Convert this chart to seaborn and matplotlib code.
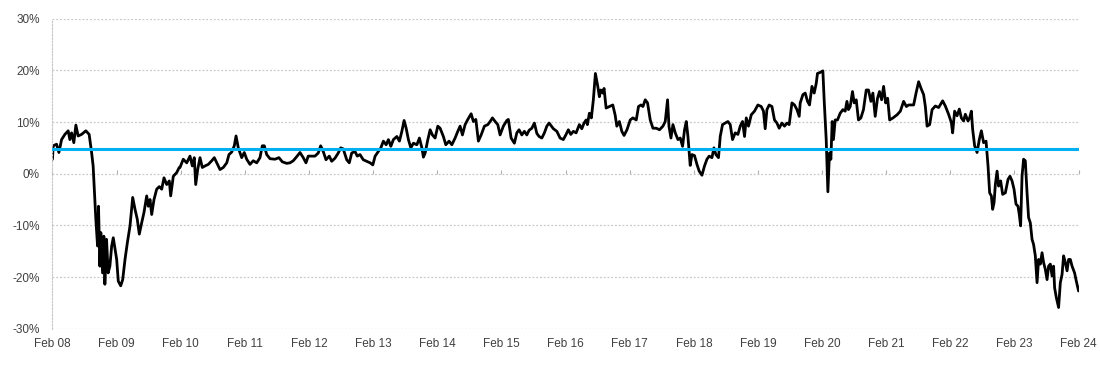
import matplotlib
matplotlib.use("Agg")
import matplotlib.pyplot as plt
import matplotlib.dates as mdates
from matplotlib.ticker import PercentFormatter
import seaborn as sns
import pandas as pd

# dates as decimal years, values in %
years = [
    2008.085, 2008.096, 2008.149, 2008.185, 2008.227, 2008.278, 2008.330, 2008.356, 2008.383, 2008.418,
    2008.450, 2008.485, 2008.538, 2008.606, 2008.657, 2008.695, 2008.719, 2008.746, 2008.761, 2008.788,
    2008.803, 2008.824, 2008.839, 2008.866, 2008.886, 2008.902, 2008.928, 2008.953, 2008.980, 2009.006,
    2009.031, 2009.058, 2009.084, 2009.109, 2009.147, 2009.178, 2009.214, 2009.250, 2009.292, 2009.334,
    2009.370, 2009.405, 2009.437, 2009.474, 2009.510, 2009.552, 2009.577, 2009.604, 2009.630, 2009.666,
    2009.708, 2009.749, 2009.786, 2009.822, 2009.864, 2009.905, 2009.926, 2009.967, 2010.020, 2010.060,
    # 2010-2011
    2010.072, 2010.123, 2010.177, 2010.228, 2010.264, 2010.295, 2010.317, 2010.348, 2010.384, 2010.420,
    2010.462, 2010.513, 2010.567, 2010.607, 2010.645, 2010.696, 2010.747, 2010.801, 2010.836, 2010.879,
    2010.919, 2010.946, 2010.981, 2011.035, 2011.075, 2011.113, 2011.164, 2011.215, 2011.269, 2011.320,
    2011.356, 2011.387, 2011.425, 2011.476, 2011.554, 2011.616, 2011.668, 2011.737, 2011.788, 2011.839,
    2011.893, 2011.944, 2011.995,
    # 2012-2013
    2012.038, 2012.073, 2012.127, 2012.178, 2012.229, 2012.267, 2012.307, 2012.350, 2012.401, 2012.439,
    2012.490, 2012.541, 2012.579, 2012.619, 2012.673, 2012.713, 2012.751, 2012.802, 2012.838, 2012.880,
    2012.931, 2012.985, 2013.036, 2013.078, 2013.114, 2013.165, 2013.203, 2013.243, 2013.286, 2013.321,
    2013.359, 2013.399, 2013.453, 2013.493, 2013.531, 2013.566, 2013.598, 2013.633, 2013.671, 2013.711,
    2013.765, 2013.805, 2013.843, 2013.867,
    # 2014-2015
    2013.894, 2013.936, 2013.972, 2014.008, 2014.050, 2014.092, 2014.128, 2014.179, 2014.217, 2014.268,
    2014.311, 2014.362, 2014.404, 2014.440, 2014.476, 2014.518, 2014.560, 2014.612, 2014.647, 2014.685,
    2014.725, 2014.768, 2014.819, 2014.872, 2014.908, 2014.944, 2014.986, 2015.028, 2015.064, 2015.115,
    2015.169, 2015.193, 2015.236, 2015.287, 2015.325, 2015.360, 2015.403, 2015.443, 2015.481, 2015.516,
    2015.559, 2015.599, 2015.637, 2015.672, 2015.715, 2015.755, 2015.793, 2015.828,
    # 2016-2017
    2015.895, 2015.949, 2016.000, 2016.051, 2016.094, 2016.129, 2016.167, 2016.207, 2016.250, 2016.301,
    2016.339, 2016.374, 2016.406, 2016.426, 2016.457, 2016.488, 2016.519, 2016.551, 2016.588, 2016.613,
    2016.635, 2016.666, 2016.686, 2016.718, 2016.769, 2016.822, 2016.858, 2016.885, 2016.925, 2016.963,
    2016.998, 2017.041, 2017.092, 2017.134, 2017.186, 2017.221, 2017.259, 2017.290, 2017.326, 2017.362,
    2017.404, 2017.446, 2017.498, 2017.549, 2017.602, 2017.638, 2017.674, 2017.696, 2017.727, 2017.758,
    # 2018-2019
    2017.794, 2017.836, 2017.872, 2017.908, 2017.939, 2017.966, 2017.992, 2018.028, 2018.055, 2018.095,
    2018.133, 2018.168, 2018.211, 2018.251, 2018.289, 2018.324, 2018.367, 2018.398, 2018.429, 2018.469,
    2018.496, 2018.532, 2018.574, 2018.616, 2018.652, 2018.688, 2018.730, 2018.772, 2018.808, 2018.844,
    2018.875, 2018.902, 2018.937, 2018.980, 2019.031, 2019.084, 2019.136, 2019.171, 2019.198, 2019.225,
    2019.260, 2019.303, 2019.343, 2019.381, 2019.416, 2019.459, 2019.499, 2019.537, 2019.572, 2019.615,
    2019.655, 2019.693, 2019.728,
    # 2020-2021
    2019.744, 2019.786, 2019.822, 2019.858, 2019.889, 2019.927, 2019.962, 2019.994, 2020.014, 2020.056,
    2020.098, 2020.118, 2020.150, 2020.176, 2020.201, 2020.223, 2020.243, 2020.263, 2020.290, 2020.326,
    2020.368, 2020.410, 2020.446, 2020.473, 2020.497, 2020.524, 2020.560, 2020.586, 2020.618, 2020.653,
    2020.691, 2020.731, 2020.774, 2020.809, 2020.847, 2020.878, 2020.914, 2020.950, 2020.981, 2021.012,
    2021.043, 2021.075, 2021.106, 2021.137, 2021.190, 2021.253, 2021.304, 2021.355, 2021.398, 2021.433,
    2021.471, 2021.511, 2021.549, 2021.589, 2021.627, 2021.667, 2021.694, 2021.721, 2021.761, 2021.799,
    # 2022-2024
    2021.850, 2021.901, 2021.964, 2022.006, 2022.057, 2022.100, 2022.120, 2022.151, 2022.189, 2022.224,
    2022.256, 2022.291, 2022.318, 2022.360, 2022.385, 2022.412, 2022.432, 2022.463, 2022.501, 2022.536,
    2022.568, 2022.603, 2022.641, 2022.672, 2022.697, 2022.724, 2022.744, 2022.766, 2022.786, 2022.813,
    2022.837, 2022.869, 2022.900, 2022.942, 2022.984, 2023.015, 2023.047, 2023.078, 2023.109, 2023.140,
    2023.160, 2023.181, 2023.203, 2023.227, 2023.254, 2023.281, 2023.305, 2023.332, 2023.359, 2023.383,
    2023.410, 2023.437, 2023.461, 2023.488, 2023.515, 2023.539, 2023.566, 2023.593, 2023.617, 2023.644,
    2023.671, 2023.695, 2023.711, 2023.738, 2023.773, 2023.800, 2023.827, 2023.851, 2023.878, 2023.905,
    2023.929, 2023.956, 2023.983, 2024.023, 2024.050, 2024.085,
]

values = [
    2.8, 5.4, 5.7, 4.1, 6.6, 7.6, 8.3, 6.6, 7.9, 6.0,
    9.4, 7.3, 7.6, 8.3, 7.6, 4.1, 1.5, -5.0, -8.8, -14.0,
    -6.3, -17.9, -11.4, -19.2, -12.1, -21.4, -12.7, -19.2, -17.9, -14.0,
    -12.4, -14.6, -16.6, -20.8, -21.7, -20.5, -16.6, -13.4, -10.1, -4.6,
    -6.9, -8.8, -11.7, -9.5, -7.5, -4.3, -6.3, -5.0, -7.9, -5.0,
    -3.0, -2.5, -3.0, -0.8, -2.1, -1.4, -4.3, -0.5, 0.2, 1.2,
    # 2010-2011
    1.2, 2.8, 2.1, 3.4, 1.5, 3.1, -2.1, 0.8, 3.1, 1.2,
    1.5, 1.8, 2.5, 3.1, 2.1, 0.8, 1.2, 2.1, 3.7, 4.2,
    5.4, 7.3, 5.0, 3.1, 4.1, 2.8, 1.8, 2.5, 2.1, 3.1,
    5.4, 5.4, 3.7, 2.9, 2.8, 3.1, 2.3, 2.0, 2.1, 2.5,
    3.3, 4.1, 3.1,
    # 2012-2013
    2.1, 3.4, 3.4, 3.4, 4.0, 5.4, 4.3, 2.7, 3.4, 2.4,
    3.0, 4.0, 5.0, 4.8, 2.7, 2.1, 4.0, 4.3, 3.4, 3.7,
    2.7, 2.4, 2.1, 1.7, 3.4, 4.3, 5.0, 6.3, 5.6, 6.6,
    5.3, 6.6, 7.2, 6.3, 8.2, 10.3, 8.8, 6.6, 5.0, 5.9,
    5.6, 6.9, 5.0, 3.2,
    # 2014-2015
    4.0, 6.6, 8.5, 7.5, 6.9, 9.2, 8.8, 7.2, 5.6, 6.3,
    5.6, 6.9, 8.2, 9.2, 7.5, 9.5, 10.5, 11.6, 10.1, 10.5,
    6.3, 7.5, 9.2, 9.5, 10.1, 10.8, 10.1, 9.5, 7.5, 9.2,
    10.3, 10.5, 6.9, 5.9, 7.9, 8.5, 7.5, 8.2, 7.5, 8.4,
    8.8, 9.8, 7.8, 7.2, 6.9, 7.9, 9.2, 9.8,
    # 2016-2017
    8.7, 8.2, 6.9, 6.6, 7.6, 8.5, 7.6, 8.2, 7.9, 9.5,
    8.7, 9.8, 10.4, 9.5, 11.7, 10.8, 14.3, 19.4, 16.9, 14.9,
    16.2, 15.6, 16.5, 12.7, 13.0, 13.3, 11.4, 9.2, 10.1, 8.2,
    7.4, 8.5, 10.4, 10.8, 10.4, 13.0, 13.3, 13.0, 14.3, 13.7,
    10.4, 8.8, 8.8, 8.5, 9.2, 10.1, 14.3, 9.2, 6.9, 9.5,
    # 2018-2019
    7.9, 6.6, 6.9, 5.3, 8.5, 10.1, 7.2, 1.6, 3.7, 3.5,
    1.8, 0.5, -0.3, 1.5, 2.8, 3.4, 3.1, 5.0, 3.7, 3.1,
    7.2, 9.5, 9.8, 10.1, 9.5, 6.6, 7.9, 7.6, 9.2, 10.1,
    7.2, 10.8, 9.2, 11.4, 12.1, 13.3, 13.0, 12.1, 8.7, 12.4,
    13.3, 13.0, 10.4, 9.8, 8.8, 9.8, 9.2, 9.8, 9.5, 13.7,
    13.3, 12.4, 11.1,
    # 2020-2021
    13.7, 15.3, 15.6, 14.0, 13.3, 16.9, 15.6, 17.5, 19.4, 19.6,
    19.9, 14.3, 6.6, -3.5, 4.0, 2.8, 10.1, 6.6, 10.4, 10.4,
    11.7, 12.4, 12.1, 14.0, 12.4, 13.0, 15.9, 13.7, 14.3, 10.4,
    10.8, 12.4, 16.2, 16.2, 14.0, 15.6, 11.1, 14.6, 15.9, 14.3,
    16.9, 13.7, 14.6, 10.4, 10.8, 11.4, 12.1, 14.0, 13.0, 13.3,
    13.3, 13.3, 15.6, 17.8, 16.5, 15.3, 13.0, 9.2, 9.5, 12.4,
    # 2022-2024
    13.1, 12.8, 14.1, 13.1, 11.5, 9.9, 7.9, 12.1, 11.2, 12.5,
    10.8, 10.2, 11.5, 10.2, 10.8, 12.1, 8.6, 5.4, 4.1, 6.6,
    8.3, 6.0, 6.3, 1.5, -3.7, -4.3, -6.9, -5.6, -2.1, 0.5,
    -2.4, -1.4, -4.0, -3.7, -1.1, -0.5, -1.4, -3.0, -5.9, -6.3,
    -7.9, -10.1, -0.5, 2.8, 2.5, -3.7, -8.5, -9.5, -12.7, -13.7,
    -15.9, -21.1, -16.6, -17.5, -15.3, -17.2, -18.5, -20.5, -17.9, -17.5,
    -19.8, -17.9, -22.1, -24.0, -25.9, -21.1, -19.5, -15.9, -17.2, -18.8,
    -16.6, -16.6, -17.9, -19.2, -20.8, -22.7,
]

average = 4.7
tick_years = list(range(2008, 2025))


def to_date(y):
    yr = int(y)
    return pd.Timestamp(yr, 1, 1) + pd.Timedelta(days=(y - yr) * 365.25)


df = pd.DataFrame({"date": [to_date(y) for y in years], "value": values})

sns.set_style("white")
plt.rcParams["font.family"] = ["Liberation Sans", "DejaVu Sans"]
plt.rcParams["axes.unicode_minus"] = False

fig = plt.figure(figsize=(11, 3.65), dpi=100)
ax = fig.add_axes([0.0477, 0.0995, 0.9328, 0.8493])

sns.lineplot(data=df, x="date", y="value", color="black", linewidth=2.0, ax=ax)
ax.axhline(average, color="#00B0F0", linewidth=2.2, zorder=3)

tick_dates = [pd.Timestamp(y, 2, 1) for y in tick_years]
ax.set_xlim(tick_dates[0], tick_dates[-1])
ax.set_ylim(-30, 30)
ax.set_yticks(range(-30, 31, 10))
ax.yaxis.set_major_formatter(PercentFormatter(decimals=0))
ax.set_xticks(tick_dates)
ax.xaxis.set_major_formatter(mdates.DateFormatter("%b %y"))
ax.set_xlabel("")
ax.set_ylabel("")

ax.grid(axis="y", color="#c8c8c8", linestyle=(0, (1.5, 1.5)), linewidth=0.9)
for s in ["top", "right", "bottom"]:
    ax.spines[s].set_visible(False)
ax.spines["left"].set_color("#c8c8c8")
ax.spines["left"].set_linestyle((0, (1.5, 1.5)))
ax.tick_params(axis="both", length=0, labelsize=8.5, labelcolor="#404040")
ax.tick_params(axis="y", pad=9)
ax.tick_params(axis="x", pad=7)

# small tick marks on the zero line
sec = ax.secondary_xaxis(0.5)
sec.set_xticks(mdates.date2num(tick_dates))
sec.tick_params(length=3, color="#b0b0b0", labelbottom=False, labeltop=False)
for sp in sec.spines.values():
    sp.set_visible(False)

fig.savefig("out.png", dpi=100)
